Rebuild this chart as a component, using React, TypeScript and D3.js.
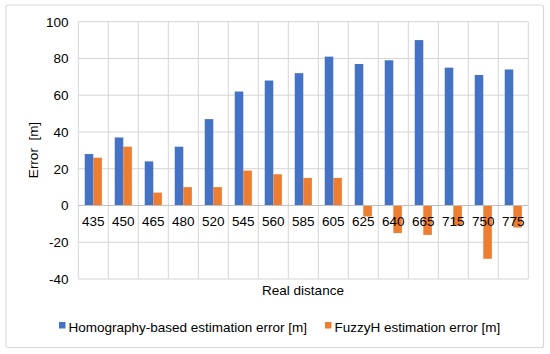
import React from "react";
import * as d3 from "d3";

const width = 550;
const height = 354;

const categories = ["435", "450", "465", "480", "520", "545", "560", "585", "605", "625", "640", "665", "715", "750", "775"];
const homography = [28, 37, 24, 32, 47, 62, 68, 72, 81, 77, 79, 90, 75, 71, 74];
const fuzzyH = [26, 32, 7, 10, 10, 19, 17, 15, 15, -6, -15, -16, -11, -29, -12];
const yTicks = [-40, -20, 0, 20, 40, 60, 80, 100];

const seriesNames = ["Homography-based estimation error [m]", "FuzzyH estimation error [m]"];
const colors = ["#4472C4", "#ED7D31"];

const margin = { left: 78.3, right: 528.3, top: 21.7, bottom: 279 };
const font = "'Liberation Sans', Arial, sans-serif";
const fs = 13.5;

export default function App() {
  const x = d3.scaleBand().domain(categories).range([margin.left, margin.right]);
  const y = d3.scaleLinear().domain([-40, 100]).range([margin.bottom, margin.top]);
  const bw = x.bandwidth() / 3.5;

  const series = [homography, fuzzyH];

  return (
    <svg width={width} height={height} style={{ position: "absolute", left: 0, top: 0 }}>
      <rect x={0} y={0} width={width} height={height} fill="#fff" />
      <rect x={6} y={5} width={537.5} height={342.5} fill="#fff" stroke="#d9d9d9" strokeWidth={1.2} rx={2} />
      {/* horizontal grid */}
      {yTicks.map((t) => (
        <line key={t} x1={margin.left} x2={margin.right} y1={y(t)} y2={y(t)} stroke="#d6d6d6" strokeWidth={1} />
      ))}
      {/* vertical grid */}
      {categories.map((c) => (
        <line key={c} x1={x(c)} x2={x(c)} y1={margin.top} y2={margin.bottom} stroke="#d6d6d6" strokeWidth={1} />
      ))}
      <line x1={margin.right} x2={margin.right} y1={margin.top} y2={margin.bottom} stroke="#d6d6d6" />
      {/* bars */}
      {series.map((vals, si) =>
        vals.map((v, i) => {
          const cx = (x(categories[i]) as number) + x.bandwidth() / 2;
          const bx = cx - bw + si * bw;
          return (
            <rect key={si + "-" + i} x={bx} y={y(Math.max(0, v))} width={bw} height={Math.abs(y(v) - y(0))} fill={colors[si]} />
          );
        })
      )}
      <line x1={margin.left} x2={margin.right} y1={y(0)} y2={y(0)} stroke="#bfbfbf" strokeWidth={1} />
      {/* category labels */}
      {categories.map((c) => (
        <text key={c} x={(x(c) as number) + x.bandwidth() / 2} y={226} textAnchor="middle" fontSize={fs} fontFamily={font} fill="#000">
          {c}
        </text>
      ))}
      {/* y tick labels */}
      {yTicks.map((t) => (
        <text key={t} x={68.5} y={y(t) + 4.8} textAnchor="end" fontSize={fs} fontFamily={font} fill="#000">
          {t}
        </text>
      ))}
      <text transform={`translate(38, 150) rotate(-90)`} textAnchor="middle" fontSize={fs} fontFamily={font} fill="#000" style={{ whiteSpace: "pre" }}>
        {"Error  [m]"}
      </text>
      <text x={303} y={295} textAnchor="middle" fontSize={fs} fontFamily={font} fill="#000">
        Real distance
      </text>
      {/* legend */}
      <rect x={59} y={322} width={6.5} height={6.5} fill={colors[0]} />
      <text x={68.5} y={331.5} fontSize={fs} fontFamily={font} fill="#000">{seriesNames[0]}</text>
      <rect x={325} y={322} width={6.5} height={6.5} fill={colors[1]} />
      <text x={334.5} y={331.5} fontSize={fs} fontFamily={font} fill="#000">{seriesNames[1]}</text>
    </svg>
  );
}
